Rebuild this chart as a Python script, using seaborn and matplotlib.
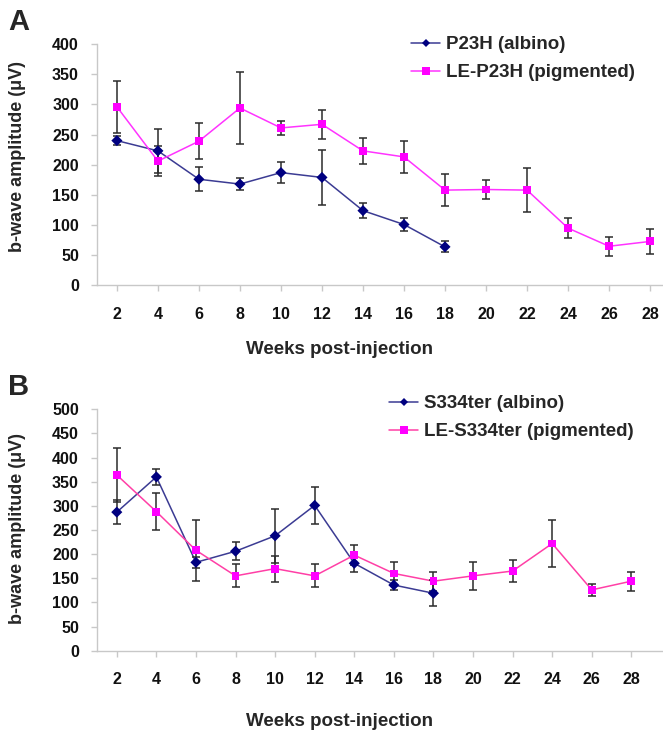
import numpy as np
import pandas as pd
import matplotlib
matplotlib.use("Agg")
import matplotlib.pyplot as plt
from matplotlib.lines import Line2D
import seaborn as sns

# ---------------- data ----------------
weeks_all = [2, 4, 6, 8, 10, 12, 14, 16, 18, 20, 22, 24, 26, 28]
weeks_albino = [2, 4, 6, 8, 10, 12, 14, 16, 18]

p23h_albino = [240, 223, 176, 168, 187, 179, 124, 101, 64]
p23h_albino_err = [8, 37, 20, 10, 18, 46, 12, 11, 9]
p23h_pig = [296, 206, 239, 294, 261, 267, 223, 213, 158, 159, 158, 95, 65, 73]
p23h_pig_err = [43, 25, 30, 59, 11, 24, 21, 26, 27, 15, 37, 17, 16, 20]

s334_albino = [287, 360, 183, 206, 238, 301, 181, 136, 119]
s334_albino_err = [25, 17, 12, 19, 56, 38, 17, 10, 27]
s334_pig = [364, 288, 208, 155, 170, 155, 198, 160, 144, 155, 165, 222, 126, 144]
s334_pig_err = [56, 39, 63, 24, 27, 24, 20, 23, 20, 29, 23, 48, 13, 20]

labels_A = ["P23H (albino)", "LE-P23H (pigmented)"]
labels_B = ["S334ter (albino)", "LE-S334ter (pigmented)"]

# ---------------- style ----------------
sns.set_style("white")
plt.rcParams["font.family"] = ["Liberation Sans", "DejaVu Sans"]
plt.rcParams["font.weight"] = "bold"

navy_line = "#3b3b93"
navy_mark = "#000080"
pink_mark = "#ff00ff"
pink_line_A = "#ff33ff"
pink_line_B = "#ff3fa6"
err_col = "#2b2b2b"
spine_col = "#c8c8c8"

W, H = 663, 733
fig = plt.figure(figsize=(W / 100, H / 100), dpi=100)


def frac_x(px):
    return px / W


def frac_y(py):
    return 1 - py / H


def panel(ax_rect, ylim, yticks, xlim, lbl, pink_line, data):
    ax = fig.add_axes(ax_rect)
    (xa, ya, ea), (xp, yp, ep) = data
    df = pd.concat([
        pd.DataFrame({"week": xa, "amp": ya, "grp": lbl[0]}),
        pd.DataFrame({"week": xp, "amp": yp, "grp": lbl[1]}),
    ], ignore_index=True)
    sns.lineplot(data=df, x="week", y="amp", hue="grp",
                 palette={lbl[0]: navy_line, lbl[1]: pink_line},
                 linewidth=1.1, legend=False, ax=ax, zorder=2)
    ax.errorbar(xa, ya, yerr=ea, fmt="none", ecolor=err_col, elinewidth=1.1,
                capsize=3.2, capthick=1.1, zorder=3)
    ax.errorbar(xp, yp, yerr=ep, fmt="none", ecolor=err_col, elinewidth=1.1,
                capsize=3.2, capthick=1.1, zorder=3)
    sns.scatterplot(data=df, x="week", y="amp", hue="grp", style="grp",
                    palette={lbl[0]: navy_mark, lbl[1]: pink_mark},
                    markers={lbl[0]: "D", lbl[1]: "s"},
                    s=32, linewidth=0, legend=False, ax=ax, zorder=4)
    ax.set_xlim(*xlim)
    ax.set_ylim(*ylim)
    ax.set_xticks(weeks_all)
    ax.set_xticklabels([str(w) for w in weeks_all], fontsize=11.5, fontweight="bold")
    ax.set_yticks(yticks)
    ax.set_yticklabels([str(v) for v in yticks], fontsize=11.5, fontweight="bold")
    ax.set_xlabel("")
    ax.set_ylabel("")
    for s in ["top", "right"]:
        ax.spines[s].set_visible(False)
    for s in ["left", "bottom"]:
        ax.spines[s].set_color(spine_col)
        ax.spines[s].set_linewidth(1.0)
        ax.spines[s].set_clip_on(False)
    ax.tick_params(axis="x", direction="out", length=4, width=1.0, color=spine_col,
                   pad=11.5, bottom=True, labelcolor="#111111")
    ax.tick_params(axis="y", direction="out", length=4, width=1.0, color=spine_col,
                   pad=9, left=True, labelcolor="#111111")
    return ax


# Panel A
axA = panel([frac_x(97), frac_y(285.5), (W - 97) / W, (285.5 - 44) / H],
            (0, 400), list(range(0, 401, 50)), (1.03, 28.63), labels_A, pink_line_A,
            ((weeks_albino, p23h_albino, p23h_albino_err),
             (weeks_all, p23h_pig, p23h_pig_err)))

# Panel B
axB = panel([frac_x(97), frac_y(650.7), (W - 97) / W, (650.7 - 409.3) / H],
            (0, 500), list(range(0, 501, 50)), (1.0, 29.6), labels_B, pink_line_B,
            ((weeks_albino, s334_albino, s334_albino_err),
             (weeks_all, s334_pig, s334_pig_err)))

# Legends
def legend(ax, lbl, pink_line, x, y):
    handles = [
        Line2D([], [], color=navy_line, lw=1.1, marker="D", markersize=4.5,
               markerfacecolor=navy_mark, markeredgewidth=0),
        Line2D([], [], color=pink_line, lw=1.1, marker="s", markersize=5.5,
               markerfacecolor=pink_mark, markeredgewidth=0),
    ]
    fig.legend(handles, lbl, loc="upper left", bbox_to_anchor=(x, y),
               bbox_transform=fig.transFigure, frameon=False, borderpad=0,
               borderaxespad=0, handlelength=1.55, handletextpad=0.3,
               labelspacing=0.58, prop={"size": 13.5, "weight": "bold"})

legend(axA, labels_A, pink_line_A, frac_x(411), frac_y(36))
legend(axB, labels_B, pink_line_B, frac_x(389), frac_y(395))

# Panel letters
fig.text(frac_x(8), frac_y(22), "A", fontsize=21, fontweight="bold", va="center", ha="left")
fig.text(frac_x(8), frac_y(387), "B", fontsize=21, fontweight="bold", va="center", ha="left")

# Axis labels
fig.text(frac_x(18), frac_y(157), "b-wave amplitude (μV)", rotation=90,
         fontsize=13, fontweight="bold", va="center", ha="center")
fig.text(frac_x(18), frac_y(528), "b-wave amplitude (μV)", rotation=90,
         fontsize=13, fontweight="bold", va="center", ha="center")
fig.text(frac_x(339), frac_y(350), "Weeks post-injection", fontsize=13.5,
         fontweight="bold", va="center", ha="center")
fig.text(frac_x(339), frac_y(722), "Weeks post-injection", fontsize=13.5,
         fontweight="bold", va="center", ha="center")

fig.savefig("out.png", dpi=100)
